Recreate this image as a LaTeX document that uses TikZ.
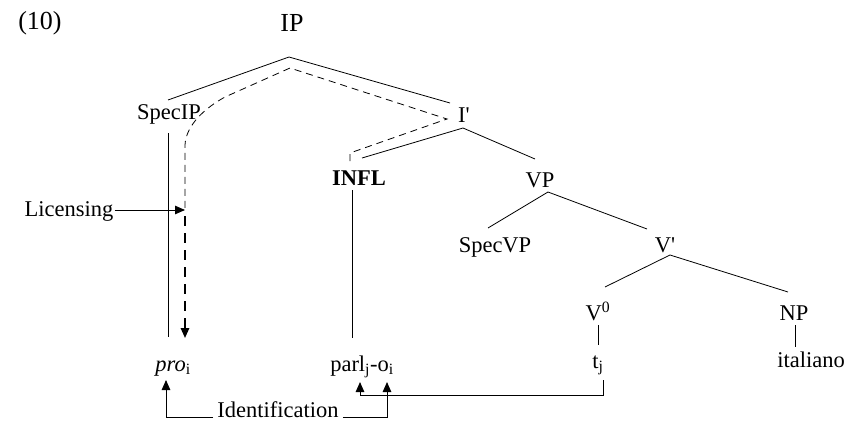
\documentclass[tikz,border=0pt]{standalone}
\usepackage{fontspec}
\setmainfont{Liberation Serif}
\usetikzlibrary{arrows.meta}
\begin{document}
\begin{tikzpicture}[x=1pt,y=-1pt,
  lbl/.style={anchor=base,inner sep=1pt,font=\fontsize{22.5}{26}\selectfont},
  big/.style={anchor=base,inner sep=1pt,font=\fontsize{26}{30}\selectfont},
  edge/.style={line width=0.8pt},
  arr/.style={line width=1pt,-{Triangle[length=10pt,width=8.5pt]}},
  thindash/.style={line width=0.8pt,dash pattern=on 7pt off 5pt},
  thickdash/.style={line width=1.6pt,dash pattern=on 10pt off 7pt,-{Triangle[length=10pt,width=8.5pt]}}]
\useasboundingbox (0,0) rectangle (863,423);
% labels
\node[big] (num) at (40,30) {(10)};
\node[big] (ip) at (292,31) {IP};
\node[lbl] (specip) at (169,119) {SpecIP};
\node[lbl] (ibar) at (464,122) {I\textquotesingle};
\node[lbl] (infl) at (359,185) {\textbf{INFL}};
\node[lbl] (vp) at (540,187) {VP};
\node[lbl] (specvp) at (495,252) {SpecVP};
\node[lbl] (vbar) at (665,252) {V\textquotesingle};
\node[lbl] (v0) at (598,320) {V\textsuperscript{0}};
\node[lbl] (np) at (794,320) {NP};
\node[lbl] (pro) at (173,371) {\textit{pro}\textsubscript{i}};
\node[lbl] (parl) at (362,371) {parl\textsubscript{j}-o\textsubscript{i}};
\node[lbl] (tj) at (598,368) {t\textsubscript{j}};
\node[lbl] (ital) at (811,367) {italiano};
\node[lbl] (lic) at (69,216) {Licensing};
\node[lbl] (ident) at (278,417) {Identification};
% tree coordinates
\coordinate (ipA) at (289,57);
\coordinate (ipL) at (168,100);
\coordinate (ipR) at (450,103);
\coordinate (ibA) at (463,128);
\coordinate (ibL) at (362,158);
\coordinate (ibR) at (535,159);
\coordinate (vpA) at (548,192);
\coordinate (vpL) at (488,228);
\coordinate (vpR) at (647,229);
\coordinate (vbA) at (670,255);
\coordinate (vbL) at (605,287);
\coordinate (vbR) at (788,292);
% tree edges
\draw[edge] (ipL) -- (ipA) -- (ipR);
\draw[edge] (ibL) -- (ibA) -- (ibR);
\draw[edge] (vpL) -- (vpA) -- (vpR);
\draw[edge] (vbL) -- (vbA) -- (vbR);
\draw[edge] (168,133) -- (168,337);
\draw[edge] (352,190) -- (352,338);
\draw[edge] (598,325) -- (598,345);
\draw[edge] (795,325) -- (795,347);
% dashed path
\coordinate (dTop) at (290,68);
\coordinate (dTip) at (447,119);
\coordinate (dIn) at (350,153);
\coordinate (dLic) at (185,210);
\draw[thindash] (350,161) -- (dIn) -- (dTip) -- (dTop) -- (225,97)
   .. controls (205,108) and (186,125) .. (185,145) -- (185,212);
\draw[thickdash] (185,216) -- (185,338);
% licensing arrow
\draw[arr] (lic.base east) ++(0,-6) -- (dLic);
% identification arrows
\coordinate (proT) at (166,380);
\coordinate (parlJ) at (360,382);
\coordinate (parlO) at (387,382);
\draw[arr] ([xshift=-3pt]ident.base west) -| (proT);
\draw[arr] ([xshift=3pt]ident.base east) -| (parlO);
\coordinate (tjB) at (603,380);
\draw[arr] (tjB) -- (603,395) -- (360,395) -- (parlJ);
\end{tikzpicture}
\end{document}
